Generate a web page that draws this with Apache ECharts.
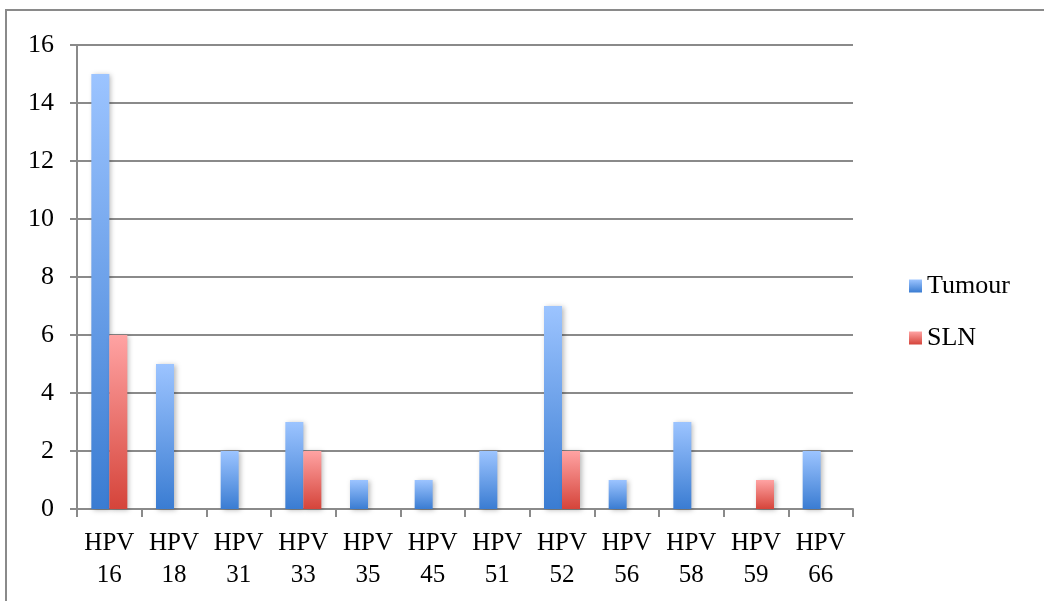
<!DOCTYPE html>
<html>
<head>
<meta charset="utf-8">
<script src="https://cdn.jsdelivr.net/npm/echarts@6/dist/echarts.min.js"></script>
<style>
html,body{margin:0;padding:0;background:#fff;}
#chart{width:1044px;height:601px;}
</style>
</head>
<body>
<div id="chart"></div>
<script>
const categories = ["HPV\n16","HPV\n18","HPV\n31","HPV\n33","HPV\n35","HPV\n45","HPV\n51","HPV\n52","HPV\n56","HPV\n58","HPV\n59","HPV\n66"];
const tumour = [15,5,2,3,1,1,2,7,1,3,0,2];
const sln = [6,0,0,2,0,0,0,2,0,0,1,0];
const seriesNames = ["Tumour","SLN"];

const FONT = '"Liberation Serif", "DejaVu Serif", serif';
const chart = echarts.init(document.getElementById('chart'), null, {renderer:'canvas'});
function grad(top, bottom){
  return new echarts.graphic.LinearGradient(0,0,0,1,[{offset:0,color:top},{offset:1,color:bottom}]);
}
const shadow = {shadowBlur:5, shadowColor:'rgba(0,0,0,0.28)', shadowOffsetX:2, shadowOffsetY:1};
chart.setOption({
  animation:false,
  backgroundColor:'#fff',
  graphic:[{type:'rect', shape:{x:6,y:10,width:1060,height:620}, style:{fill:'none', stroke:'#8a8a8a', lineWidth:2}, silent:true}],
  grid:{left:77, right:191, top:45, bottom:92},
  legend:{
    orient:'vertical', left:904, top:268, itemWidth:13, itemHeight:13, itemGap:26,
    icon:'rect', data:seriesNames, itemStyle:{shadowBlur:0, shadowOffsetX:0, shadowOffsetY:0},
    textStyle:{fontFamily:FONT, fontSize:26, color:'#000'}
  },
  xAxis:{
    type:'category', data:categories,
    axisLine:{lineStyle:{color:'#8a8a8a', width:2}},
    axisTick:{show:true, length:8, lineStyle:{color:'#8a8a8a', width:2}},
    axisLabel:{fontFamily:FONT, fontSize:25, color:'#000', lineHeight:32, margin:18, interval:0}
  },
  yAxis:{
    type:'value', min:0, max:16, interval:2,
    axisLine:{show:true, lineStyle:{color:'#8a8a8a', width:2}},
    axisTick:{show:true, length:7, lineStyle:{color:'#8a8a8a', width:2}},
    splitLine:{lineStyle:{color:'#8a8a8a', width:2}},
    axisLabel:{fontFamily:FONT, fontSize:26, color:'#000', margin:23}
  },
  series:[
    {name:seriesNames[0], type:'bar', data:tumour, barWidth:18, barGap:'0%',
     itemStyle:Object.assign({color:grad('#9CC4FF','#3A7CD2')}, shadow)},
    {name:seriesNames[1], type:'bar', data:sln, barWidth:18, barGap:'0%',
     itemStyle:Object.assign({color:grad('#FFA3A3','#D5443A')}, shadow)}
  ]
});
</script>
</body>
</html>
